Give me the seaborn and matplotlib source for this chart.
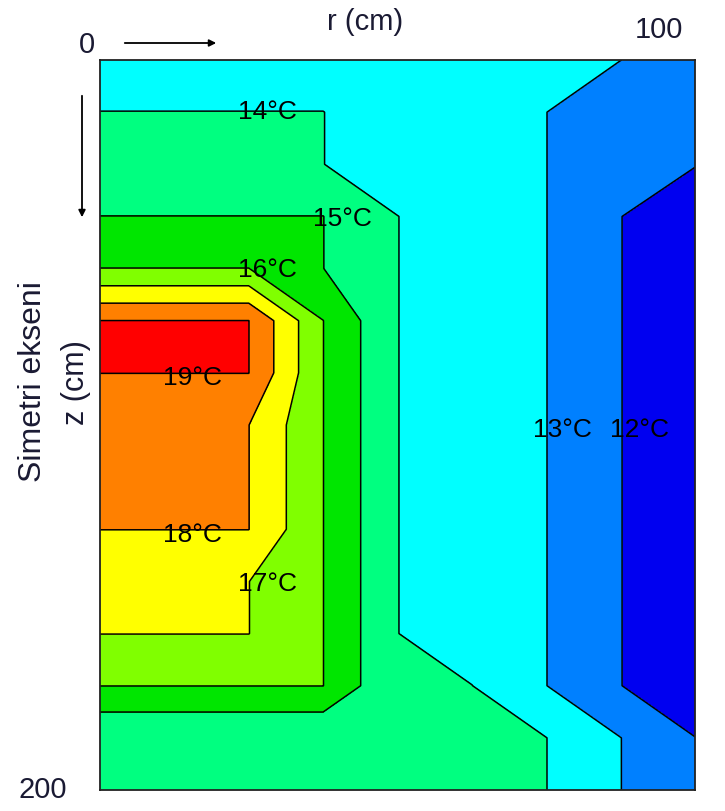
import numpy as np
import matplotlib
matplotlib.use("Agg")
import matplotlib.pyplot as plt
import seaborn as sns

# grid coordinates (cm)
r_vals = [0, 12.5, 25, 37.5, 50, 62.5, 75, 87.5, 100]
z_vals = [0, 14.29, 28.57, 42.86, 57.14, 71.43, 85.71, 100.0,
          114.29, 128.57, 142.86, 157.14, 171.43, 185.71, 200.0]

# temperature (°C) at each grid node, one list per radial column (top -> bottom)
T_r000 = [13.5, 14.01, 14.01, 15.01, 16.01, 19.01, 19.01, 18.01, 18.01, 18.01, 17.01, 17.01, 16.01, 14.01, 14.01]
T_r125 = [13.5, 14.01, 14.01, 15.01, 16.01, 19.01, 19.01, 18.01, 18.01, 18.01, 17.01, 17.01, 16.01, 14.01, 14.01]
T_r250 = [13.5, 14.01, 14.01, 15.01, 16.01, 19.01, 19.01, 18.01, 18.01, 18.01, 17.01, 17.01, 16.01, 14.01, 14.01]
T_r375 = [13.5, 14.01, 14.01, 15.01, 15.01, 16.01, 16.01, 16.01, 16.01, 16.01, 16.01, 16.01, 16.01, 14.01, 14.01]
T_r500 = [13.5, 13.5, 13.5, 14.01, 14.01, 14.01, 14.01, 14.01, 14.01, 14.01, 14.01, 14.01, 14.01, 14.01, 14.01]
T_r625 = [13.5, 13.5, 13.5, 13.5, 13.5, 13.5, 13.5, 13.5, 13.5, 13.5, 13.5, 13.5, 14.01, 14.01, 14.01]
T_r750 = [13.5, 13.01, 13.01, 13.01, 13.01, 13.01, 13.01, 13.01, 13.01, 13.01, 13.01, 13.01, 13.01, 14.01, 14.01]
T_r875 = [13.01, 12.01, 12.01, 12.01, 12.01, 12.01, 12.01, 12.01, 12.01, 12.01, 12.01, 12.01, 12.01, 13.01, 13.01]
T_r1000 = [12.5, 12.5, 12.03, 11.5, 11.5, 11.5, 11.5, 11.5, 11.5, 11.5, 11.5, 11.5, 11.5, 12.01, 12.01]

levels = [11, 12, 13, 14, 15, 16, 17, 18, 19, 20]
band_colors = ["#0000F0", "#0080FF", "#00FFFF", "#00FF80", "#00E600",
               "#80FF00", "#FFFF00", "#FF8000", "#FF0000"]
line_levels = [12, 13, 14, 15, 16, 17, 18, 19]

label_texts = ["14°C", "15°C", "16°C", "19°C", "18°C", "17°C", "13°C", "12°C"]
label_r = [28.2, 40.8, 28.2, 15.6, 15.6, 28.2, 77.8, 90.6]
label_z = [14.3, 43.5, 57.5, 87.0, 130.0, 143.5, 101.5, 101.5]

sns.set_style("white")
plt.rcParams["font.family"] = ["Liberation Sans", "DejaVu Sans"]

T = np.column_stack([T_r000, T_r125, T_r250, T_r375, T_r500,
                     T_r625, T_r750, T_r875, T_r1000])
R, Z = np.meshgrid(r_vals, z_vals)

fig = plt.figure(figsize=(7.25, 8.11), dpi=100)
ax = fig.add_axes([100 / 725, 21 / 811, 595 / 725, 730 / 811])

ax.contourf(R, Z, T, levels=levels, colors=band_colors)
ax.contour(R, Z, T, levels=line_levels, colors="black", linewidths=1.1)

for txt, rr, zz in zip(label_texts, label_r, label_z):
    ax.text(rr, zz, txt, ha="center", va="center", fontsize=19,
            color="black")

ax.set_xlim(0, 100)
ax.set_ylim(200, 0)
ax.set_xticks([])
ax.set_yticks([])
for s in ax.spines.values():
    s.set_visible(True)
    s.set_color("#222222")
    s.set_linewidth(1.3)

txt_col = "#1a1a33"
fig.text(87 / 725, 1 - 45 / 811, "0", ha="center", va="center", fontsize=21, color=txt_col)
fig.text(683 / 725, 1 - 30 / 811, "100", ha="right", va="center", fontsize=21, color=txt_col)
fig.text(43 / 725, 1 - 790 / 811, "200", ha="center", va="center", fontsize=21, color=txt_col)
fig.text(365 / 725, 1 - 22 / 811, "r (cm)", ha="center", va="center", fontsize=21, color=txt_col)
fig.text(33 / 725, 1 - 382 / 811, "Simetri ekseni", ha="center", va="center",
         rotation=90, fontsize=23, color=txt_col)
fig.text(76 / 725, 1 - 383 / 811, "z (cm)", ha="center", va="center",
         rotation=90, fontsize=22, color=txt_col)

# direction arrows
fig.add_artist(matplotlib.patches.FancyArrowPatch(
    (122 / 725, 1 - 43 / 811), (219 / 725, 1 - 43 / 811), transform=fig.transFigure,
    arrowstyle="-|>,head_length=4,head_width=2", color="black", lw=1.3))
fig.add_artist(matplotlib.patches.FancyArrowPatch(
    (82 / 725, 1 - 93 / 811), (82 / 725, 1 - 220 / 811), transform=fig.transFigure,
    arrowstyle="-|>,head_length=4,head_width=2", color="black", lw=1.3))

fig.savefig("out.png", dpi=100)
